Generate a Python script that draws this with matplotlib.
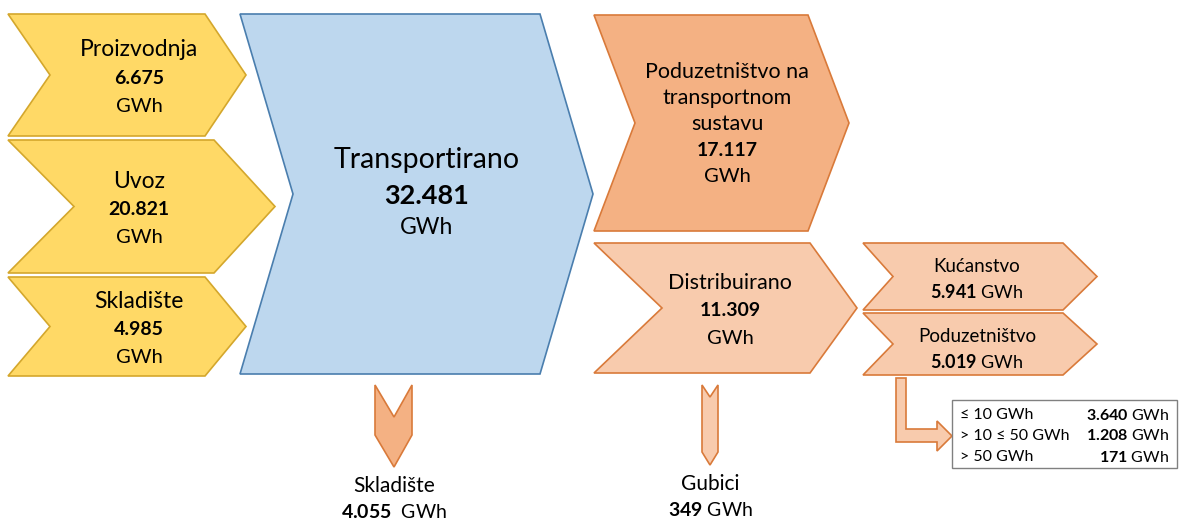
import matplotlib
matplotlib.use("Agg")
import matplotlib.pyplot as plt
from matplotlib.patches import Polygon, Rectangle

plt.rcParams['font.family'] = ['Lato', 'DejaVu Sans']
plt.rcParams['mathtext.fontset'] = 'custom'
plt.rcParams['mathtext.rm'] = 'Lato'
plt.rcParams['mathtext.bf'] = 'Lato:bold'

# data
sources = ['Proizvodnja', 'Uvoz', 'Skladište']
source_values = ['6.675', '20.821', '4.985']
transported = '32.481'
to_storage = '4.055'
transport_customers = '17.117'
distributed = '11.309'
losses = '349'
dist_groups = ['Kućanstvo', 'Poduzetništvo']
dist_values = ['5.941', '5.019']
size_classes = ['≤ 10 GWh', '> 10 ≤ 50 GWh', '> 50 GWh']
size_values = ['3.640', '1.208', '171']

YELLOW, YELLOW_E = '#FFD966', '#D4A72C'
BLUE, BLUE_E = '#BDD7EE', '#4A7EAE'
ORANGE, ORANGE_E = '#F4B183', '#D97A3A'
LORANGE = '#F8CBAD'

fig = plt.figure(figsize=(11.81, 5.22), dpi=100)
ax = fig.add_axes([0, 0, 1, 1])
ax.set_xlim(0, 1181)
ax.set_ylim(522, 0)
ax.axis('off')


def chevron(x0, x1, y0, y1, notch, tip, fc, ec):
    ym = (y0 + y1) / 2
    pts = [(x0, y0), (x1, y0), (x1 + tip, ym), (x1, y1), (x0, y1), (x0 + notch, ym)]
    ax.add_patch(Polygon(pts, closed=True, fc=fc, ec=ec, lw=1.2))


# left column (yellow)
rows = [(14, 136, 42, 205, 41), (140, 273, 66, 214, 61), (277, 376, 42, 205, 41)]
for (y0, y1, n, x1, t), name, val in zip(rows, sources, source_values):
    chevron(8, x1, y0, y1, n, t, YELLOW, YELLOW_E)
    ym = (y0 + y1) / 2
    ax.text(139, ym - 25, name, ha='center', va='center', fontsize=16.5)
    ax.text(139, ym + 3, val, ha='center', va='center', fontsize=14, fontweight='bold')
    ax.text(139, ym + 31, 'GWh', ha='center', va='center', fontsize=14.5)

# transported (blue)
chevron(240, 540, 14, 374, 53, 53, BLUE, BLUE_E)
ax.text(427, 160, 'Transportirano', ha='center', va='center', fontsize=20.5)
ax.text(427, 196, transported, ha='center', va='center', fontsize=19.5, fontweight='bold')
ax.text(427, 228, 'GWh', ha='center', va='center', fontsize=16.5)

# transport-system customers
chevron(594, 808, 15, 231, 41, 41, ORANGE, ORANGE_E)
for y, s, w, fs in [(72, 'Poduzetništvo na', 'normal', 15.5), (98, 'transportnom', 'normal', 15.5),
                    (124, 'sustavu', 'normal', 15.5), (150, transport_customers, 'bold', 14),
                    (176, 'GWh', 'normal', 14.5)]:
    ax.text(727, y, s, ha='center', va='center', fontsize=fs, fontweight=w)

# distributed
chevron(594, 810, 243, 373, 68, 47, LORANGE, ORANGE_E)
ax.text(730, 283, 'Distribuirano', ha='center', va='center', fontsize=15.5)
ax.text(730, 311, distributed, ha='center', va='center', fontsize=14, fontweight='bold')
ax.text(730, 339, 'GWh', ha='center', va='center', fontsize=14.5)

# distribution groups
for (y0, y1), name, val in zip([(243, 310), (313, 375)], dist_groups, dist_values):
    chevron(863, 1063, y0, y1, 30, 34, LORANGE, ORANGE_E)
    ax.text(977, y0 + 24, name, ha='center', va='center', fontsize=13.5)
    ax.text(977, y0 + 49, r'$\mathbf{%s}$ GWh' % val, ha='center', va='center', fontsize=13)

# down arrows
ax.add_patch(Polygon([(375, 385), (394, 417), (412, 385), (412, 435), (394, 467), (375, 435)],
                     closed=True, fc=ORANGE, ec=ORANGE_E, lw=1.2))
ax.text(394, 486, 'Skladište', ha='center', va='center', fontsize=15)
ax.text(394, 512, r'$\mathbf{%s}$  GWh' % to_storage, ha='center', va='center', fontsize=14)

ax.add_patch(Polygon([(702, 385), (710, 397), (718, 385), (718, 452), (710, 465), (702, 452)],
                     closed=True, fc=LORANGE, ec=ORANGE_E, lw=1.2))
ax.text(710, 484, 'Gubici', ha='center', va='center', fontsize=15)
ax.text(710, 510, r'$\mathbf{%s}$ GWh' % losses, ha='center', va='center', fontsize=14)

# bent arrow to size-class box
ax.add_patch(Polygon([(896, 378), (906, 378), (906, 429), (937, 429), (937, 421), (952, 436),
                      (937, 451), (937, 442), (896, 442)],
                     closed=True, fc=LORANGE, ec=ORANGE_E, lw=1.2))
ax.add_patch(Rectangle((952, 400), 225, 68, fc='white', ec='#808080', lw=1))
for i, (lab, val) in enumerate(zip(size_classes, size_values)):
    y = 415 + i * 21
    ax.text(960, y, lab, ha='left', va='center', fontsize=11.5)
    ax.text(1169, y, r'$\mathbf{%s}$ GWh' % val, ha='right', va='center', fontsize=11.5)

fig.savefig('out.png', dpi=100)
